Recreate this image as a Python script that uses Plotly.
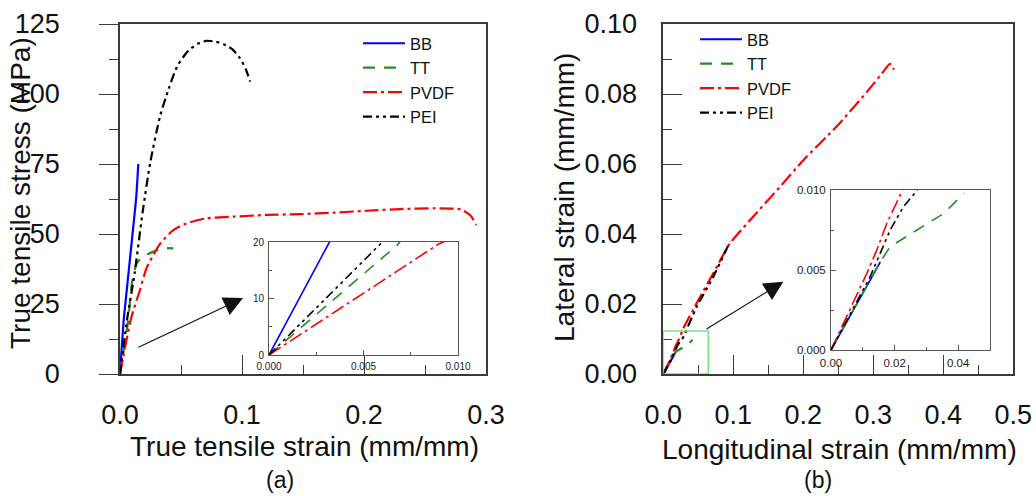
import plotly.graph_objects as go

# ---------------- data: panel (a) true stress-strain ----------------
bb_a_x = [0, 0.0032, 0.0131, 0.0150]
bb_a_y = [0, 20, 62, 75]
tt_a_x = [0, 0.0068, 0.0096, 0.0137, 0.019, 0.0273, 0.0355, 0.0437]
tt_a_y = [0, 19.5, 32, 39.5, 41.9, 43.7, 44.9, 44.9]
pvdf_a_x = [0, 0.009, 0.0164, 0.0219, 0.0328, 0.0437, 0.0546, 0.071, 0.093, 0.12,
            0.1475, 0.175, 0.202, 0.2295, 0.257, 0.279, 0.287, 0.292]
pvdf_a_y = [0, 19.7, 30, 38, 46.5, 51.4, 53.8, 55.6, 56.2, 56.8,
            57.1, 57.6, 58.3, 58.9, 59.2, 58.8, 56.8, 53.2]
pei_a_x = [0, 0.006, 0.012, 0.0186, 0.025, 0.0328, 0.040, 0.047, 0.056, 0.064,
           0.071, 0.078, 0.085, 0.092, 0.098, 0.103, 0.1066]
pei_a_y = [0, 20, 36, 58, 76, 92, 102, 110, 115.5, 118,
           119, 118.7, 117.8, 116, 113, 109, 104.4]

# ---------------- data: panel (b) lateral vs longitudinal strain ----------------
bb_b_x = [0, 0.0155]
bb_b_y = [0, 0.0055]
tt_b_x = [0, 0.0155, 0.0186, 0.0228, 0.0281, 0.0355, 0.0418]
tt_b_y = [0, 0.0055, 0.00646, 0.00698, 0.0076, 0.00854, 0.00979]
pvdf_b_x = [0, 0.006, 0.01126, 0.0144, 0.01758, 0.022, 0.0286, 0.0476, 0.0714, 0.0952,
            0.1286, 0.1667, 0.2, 0.2476, 0.2905, 0.314, 0.3238, 0.3295]
pvdf_b_y = [0, 0.0025, 0.00479, 0.00625, 0.00792, 0.00979, 0.013, 0.0202, 0.0288, 0.0373,
            0.045, 0.0535, 0.0611, 0.0707, 0.0805, 0.0863, 0.0886, 0.0869]
pei_b_x = [0, 0.0123, 0.01547, 0.0186, 0.0228, 0.027, 0.0476, 0.0714, 0.0952]
pei_b_y = [0, 0.00458, 0.00604, 0.0075, 0.00896, 0.00996, 0.0192, 0.0278, 0.0378]

names = ["BB", "TT", "PVDF", "PEI"]
colors = ["#0000ff", "#2a8a2a", "#ff0000", "#000000"]
dashes = ["solid", "12px,9px", "14px,4px,3px,4px", "9px,4px,3px,4px,3px,4px"]

panel_a = [(bb_a_x, bb_a_y), (tt_a_x, tt_a_y), (pvdf_a_x, pvdf_a_y), (pei_a_x, pei_a_y)]
panel_b = [(bb_b_x, bb_b_y), (tt_b_x, tt_b_y), (pvdf_b_x, pvdf_b_y), (pei_b_x, pei_b_y)]

FONT = "Liberation Sans, Arial, sans-serif"
AX = "#3a3a3a"

fig = go.Figure()

for i, (xs, ys) in enumerate(panel_a):
    fig.add_trace(go.Scatter(x=xs, y=ys, mode="lines", name=names[i],
                             line=dict(color=colors[i], width=2.2, dash=dashes[i],
                                       shape="spline", smoothing=0.6),
                             xaxis="x", yaxis="y", legend="legend"))
for i, (xs, ys) in enumerate(panel_a):
    fig.add_trace(go.Scatter(x=xs, y=ys, mode="lines", name=names[i], showlegend=False,
                             line=dict(color=colors[i], width=1.6, dash=dashes[i]),
                             xaxis="x2", yaxis="y2"))
for i, (xs, ys) in enumerate(panel_b):
    fig.add_trace(go.Scatter(x=xs, y=ys, mode="lines", name=names[i],
                             line=dict(color=colors[i], width=2.2, dash=dashes[i],
                                       shape="spline", smoothing=0.6),
                             xaxis="x3", yaxis="y3", legend="legend2"))
for i, (xs, ys) in enumerate(panel_b):
    fig.add_trace(go.Scatter(x=xs, y=ys, mode="lines", name=names[i], showlegend=False,
                             line=dict(color=colors[i], width=1.6, dash=dashes[i]),
                             xaxis="x4", yaxis="y4"))

W, H = 1036, 496
def px(v): return v / W
def py(v): return 1 - v / H

main_font = dict(family=FONT, size=27, color="#111")
inset_font_a = dict(family=FONT, size=10, color="#222")
inset_font_b = dict(family=FONT, size=11.5, color="#222")

common = dict(showline=True, linecolor=AX, linewidth=1.5, mirror=True, showgrid=False,
              zeroline=False, tickcolor=AX, tickwidth=1.3, automargin=False)
inset_common = dict(showline=True, linecolor="#555", linewidth=1, mirror=True, showgrid=False,
                    zeroline=False, tickcolor="#555", tickwidth=1, ticks="inside", ticklen=5,
                    automargin=False)

fig.update_layout(
    width=W, height=H, margin=dict(l=0, r=0, t=0, b=0, autoexpand=False),
    paper_bgcolor="white", plot_bgcolor="white",
    font=dict(family=FONT, color="#111"),
    xaxis=dict(domain=[px(120), px(486)], anchor="y", range=[0, 0.3], tickvals=[0, 0.1, 0.2, 0.3],
               tickformat=".1f", ticks="inside", ticklen=19, tickfont=main_font, ticklabelstandoff=16,
               minor=dict(dtick=0.05, ticks="inside", ticklen=9, tickcolor=AX), **common),
    yaxis=dict(domain=[py(374), py(24)], anchor="x", range=[0, 125], tickvals=[0, 25, 50, 75, 100, 125],
               ticks="outside", ticklen=19, tickfont=main_font, ticklabelstandoff=34,
               minor=dict(dtick=12.5, ticks="outside", ticklen=9, tickcolor=AX), **common),
    xaxis2=dict(domain=[px(269), px(458)], anchor="y2", range=[0, 0.01], tickvals=[0, 0.005, 0.01],
                tickformat=".3f", tickfont=inset_font_a, ticklabelstandoff=2,
                minor=dict(dtick=0.0025, ticks="inside", ticklen=3, tickcolor="#555"), **inset_common),
    yaxis2=dict(domain=[py(355), py(242)], anchor="x2", range=[0, 20], tickvals=[0, 10, 20],
                tickfont=inset_font_a, ticklabelstandoff=2,
                minor=dict(dtick=5, ticks="inside", ticklen=3, tickcolor="#555"), **inset_common),
    xaxis3=dict(domain=[px(663.3), px(1013.3)], anchor="y3", range=[0, 0.5],
                tickvals=[0, 0.1, 0.2, 0.3, 0.4, 0.5], tickformat=".1f", ticks="inside", ticklen=19,
                tickfont=main_font, ticklabelstandoff=16,
                minor=dict(dtick=0.05, ticks="inside", ticklen=9, tickcolor=AX), **common),
    yaxis3=dict(domain=[py(374), py(24)], anchor="x3", range=[0, 0.1],
                tickvals=[0, 0.02, 0.04, 0.06, 0.08, 0.10], tickformat=".2f", ticks="inside", ticklen=19,
                tickfont=main_font, ticklabelstandoff=19,
                minor=dict(dtick=0.01, ticks="inside", ticklen=9, tickcolor=AX), **common),
    xaxis4=dict(domain=[px(831), px(990)], anchor="y4", range=[0, 0.05], tickvals=[0, 0.02, 0.04],
                tickformat=".2f", tickfont=inset_font_b, ticklabelstandoff=2,
                minor=dict(dtick=0.01, ticks="inside", ticklen=3, tickcolor="#555"), **inset_common),
    yaxis4=dict(domain=[py(350), py(190)], anchor="x4", range=[0, 0.01],
                tickvals=[0, 0.005, 0.01], tickformat=".3f", tickfont=inset_font_b, ticklabelstandoff=2,
                minor=dict(dtick=0.0025, ticks="inside", ticklen=3, tickcolor="#555"), **inset_common),
    legend=dict(x=px(358), y=py(26), xanchor="left", yanchor="top", bgcolor="rgba(0,0,0,0)",
                font=dict(family=FONT, size=16.5, color="#111"), itemwidth=42, tracegroupgap=0),
    legend2=dict(x=px(695), y=py(22), xanchor="left", yanchor="top", bgcolor="rgba(0,0,0,0)",
                 font=dict(family=FONT, size=16.5, color="#111"), itemwidth=42, tracegroupgap=0),
)

# zoom-region box in panel (b)
fig.add_shape(type="rect", xref="x3", yref="y3", x0=0, y0=0, x1=0.0643, y1=0.0123,
              line=dict(color="#7de27d", width=1.6))

# arrows pointing to insets
fig.add_annotation(xref="x", yref="y", axref="x", ayref="y", x=0.1008, y=27.1, ax=0.0139, ay=9.3,
                   text="", showarrow=True, arrowhead=2, arrowsize=3.2, arrowwidth=1.2, arrowcolor="#111")
fig.add_annotation(xref="x3", yref="y3", axref="x3", ayref="y3", x=0.1714, y=0.02637, ax=0.0596, ay=0.01257,
                   text="", showarrow=True, arrowhead=2, arrowsize=3.2, arrowwidth=1.2, arrowcolor="#111")

title_font = dict(family=FONT, size=28, color="#111")
fig.add_annotation(xref="paper", yref="paper", x=px(304), y=py(446), text="True tensile strain (mm/mm)",
                   showarrow=False, font=title_font, xanchor="center", yanchor="middle")
fig.add_annotation(xref="paper", yref="paper", x=px(20), y=py(193), text="True tensile stress (MPa)",
                   showarrow=False, font=title_font, textangle=-90, xanchor="center", yanchor="middle")
fig.add_annotation(xref="paper", yref="paper", x=px(839), y=py(449), text="Longitudinal strain (mm/mm)",
                   showarrow=False, font=title_font, xanchor="center", yanchor="middle")
fig.add_annotation(xref="paper", yref="paper", x=px(564), y=py(198), text="Lateral strain (mm/mm)",
                   showarrow=False, font=title_font, textangle=-90, xanchor="center", yanchor="middle")
fig.add_annotation(xref="paper", yref="paper", x=px(280), y=py(480), text="(a)",
                   showarrow=False, font=dict(family=FONT, size=23, color="#111"),
                   xanchor="center", yanchor="middle")
fig.add_annotation(xref="paper", yref="paper", x=px(818), y=py(480), text="(b)",
                   showarrow=False, font=dict(family=FONT, size=23, color="#111"),
                   xanchor="center", yanchor="middle")

fig.write_html("out.html", config={"displayModeBar": False},
               post_script="document.body.style.margin='0px';")
